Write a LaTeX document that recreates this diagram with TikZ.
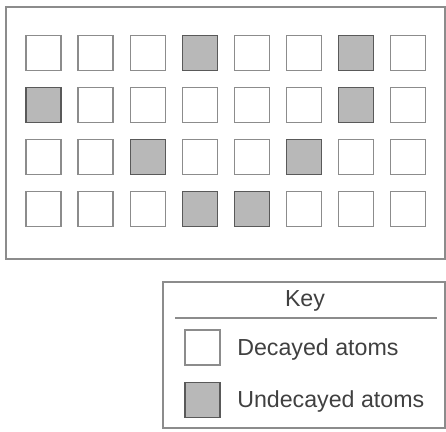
\documentclass[tikz,border=0pt]{standalone}
\usepackage{fontspec}
\setmainfont{Liberation Sans}
\definecolor{linegray}{gray}{0.55}
\definecolor{atomfill}{gray}{0.72}
\tikzset{%
    atom/.style={rectangle, draw=linegray, line width=0.9pt, fill=white,
    	minimum size=0.875cm, inner sep=0pt},
    undecayed/.style={atom, draw=black!65, fill=atomfill},
    frame/.style={draw=linegray, line width=0.8pt},
    keytext/.style={anchor=west, inner sep=0pt, text=black!75,
    	font=\fontsize{16.5}{19}\selectfont}
}

\begin{document}
\begin{tikzpicture}[x=0.025cm, y=-0.025cm]
  \useasboundingbox (0,0) rectangle (446,432);
  \draw [frame] (6,7) rectangle (445,259);

  % grid of atoms
  \foreach \r in {1,...,4} {
    \foreach \c in {1,...,8} {
      \node (a\r\c) [atom] at ({43.5+52.1*(\c-1)}, {53+52*(\r-1)}) {};
    }
  }
  \foreach \r/\c in {1/4, 1/7, 2/1, 2/7, 3/3, 3/6, 4/4, 4/5} {
    \node (u\r\c) [undecayed] at (a\r\c) {};
  }

  % key
  \draw [frame] (163,282) rectangle (445,428);
  \node (key) [keytext, anchor=center] at (305,301) {Key};
  \coordinate (kl) at (175,318);
  \coordinate (kr) at (437,318);
  \draw [draw=linegray, line width=0.9pt] (kl) -- (kr);
  \node (kd) [atom] at (202.5,347.5) {};
  \node (ku) [undecayed] at (202.5,400) {};
  \node (td) [keytext] at (237,349) {Decayed atoms};
  \node (tu) [keytext] at (237,401) {Undecayed atoms};
\end{tikzpicture}
\end{document}
